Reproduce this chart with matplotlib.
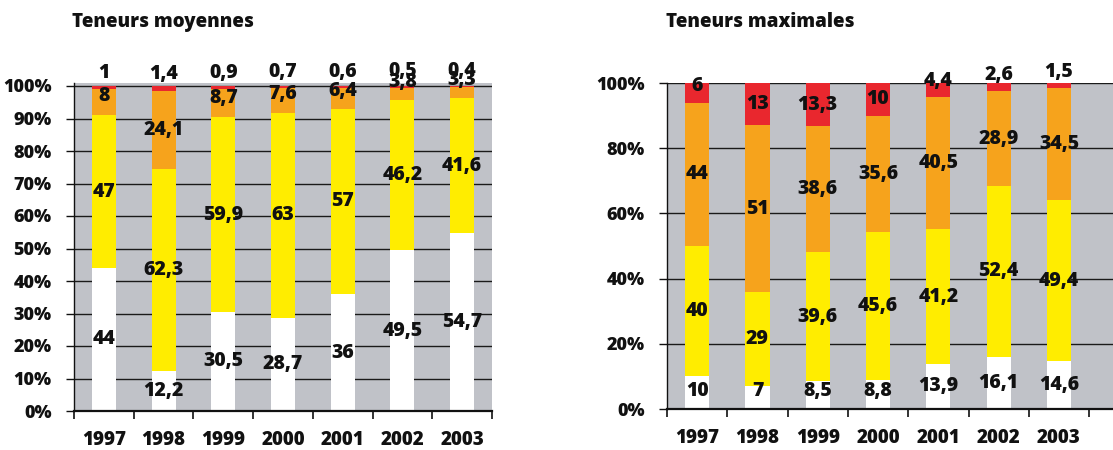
import matplotlib
matplotlib.use("Agg")
import matplotlib.pyplot as plt
import numpy as np

plt.rcParams['font.family'] = ['Open Sans', 'DejaVu Sans']
plt.rcParams['font.weight'] = 'heavy'

years = ['1997', '1998', '1999', '2000', '2001', '2002', '2003']

moy_white = [44, 12.2, 30.5, 28.7, 36, 49.5, 54.7]
moy_yellow = [47, 62.3, 59.9, 63, 57, 46.2, 41.6]
moy_orange = [8, 24.1, 8.7, 7.6, 6.4, 3.8, 3.3]
moy_red = [1, 1.4, 0.9, 0.7, 0.6, 0.5, 0.4]

max_white = [10, 7, 8.5, 8.8, 13.9, 16.1, 14.6]
max_yellow = [40, 29, 39.6, 45.6, 41.2, 52.4, 49.4]
max_orange = [44, 51, 38.6, 35.6, 40.5, 28.9, 34.5]
max_red = [6, 13, 13.3, 10, 4.4, 2.6, 1.5]

colors = ['#ffffff', '#ffed00', '#f6a31c', '#e9272e']
grey = '#c0c2c8'
txt = '#111111'
FW = 'heavy'

W, H = 1113, 450
fig = plt.figure(figsize=(W / 100, H / 100), dpi=100)


def fmt(v):
    return f"{v:g}".replace('.', ',')


def draw(ax, series, yticks, ytop):
    x = np.arange(len(years))
    bottom = np.zeros(len(years))
    for si, (vals, col) in enumerate(zip(series, colors)):
        vals = np.array(vals, dtype=float)
        ax.bar(x, vals, bottom=bottom, width=0.4, color=col, zorder=2, linewidth=0)
        for xi, b, h in zip(x, bottom, vals):
            mid = b + h / 2
            top = b + h
            if si == 0:
                y = max(mid, 5.5)
            elif top > 97:
                y = max(mid, 105 - h)
            else:
                y = mid
            ax.text(xi, y, fmt(h), ha='center', va='center', fontsize=14,
                    fontweight=FW, color=txt, zorder=5, clip_on=False)
        bottom = bottom + vals
    ax.set_facecolor(grey)
    ax.set_ylim(0, ytop)
    ax.set_yticks(yticks)
    ax.set_yticklabels([f"{t}%" for t in yticks], fontsize=13, fontweight=FW, color=txt)
    ax.set_xticks(x)
    ax.set_xticklabels(years, fontsize=13.5, fontweight=FW, color=txt)
    ax.set_xticks(np.arange(len(years) + 1) - 0.5, minor=True)
    ax.tick_params(axis='x', which='major', length=0, pad=14)
    ax.tick_params(axis='x', which='minor', length=6, width=1.2, direction='out', color='#111')
    ax.tick_params(axis='y', length=6, width=1.0, direction='out', color='#111', pad=10)
    ax.grid(axis='y', color='#1a1a1a', linewidth=1.0)
    ax.set_axisbelow(True)
    for s in ['top', 'right']:
        ax.spines[s].set_visible(False)
    ax.spines['left'].set_color('#111')
    ax.spines['bottom'].set_color('#111')
    ax.spines['bottom'].set_linewidth(1.6)
    ax.spines['left'].set_linewidth(1.0)


# left panel
l0, l1 = 74, 492
y0 = 411
y100 = 86
ppu = (y0 - y100) / 100.0
ytop_l = 101
axL = fig.add_axes([l0 / W, (H - y0) / H, (l1 - l0) / W, (ytop_l * ppu) / H])
axL.set_xlim(-0.5, 6.5)
draw(axL, [moy_white, moy_yellow, moy_orange, moy_red], list(range(0, 101, 10)), ytop_l)

# right panel
r0 = 667
step = 60.3
ry0, ry100 = 409, 83
xmax = -0.5 + (W - r0) / step
axR = fig.add_axes([r0 / W, (H - ry0) / H, (W - r0) / W, (ry0 - ry100) / H])
axR.set_xlim(-0.5, xmax)
draw(axR, [max_white, max_yellow, max_orange, max_red], list(range(0, 101, 20)), 100)

fig.text(72 / W, 1 - 22 / H, 'Teneurs moyennes', fontsize=13.5, fontweight=FW,
         ha='left', va='center', color=txt)
fig.text(666 / W, 1 - 22 / H, 'Teneurs maximales', fontsize=13.5, fontweight=FW,
         ha='left', va='center', color=txt)

fig.savefig('out.png', dpi=100)
